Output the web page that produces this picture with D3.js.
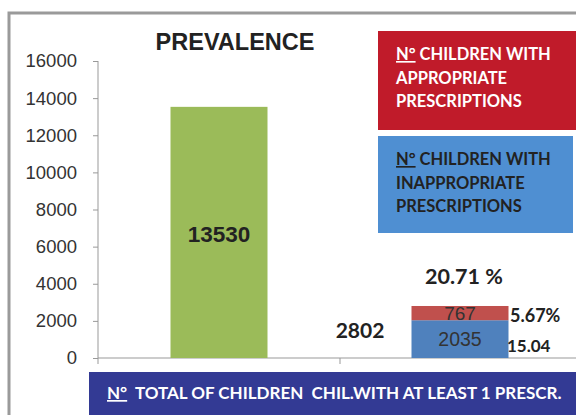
<!DOCTYPE html>
<html>
<head>
<meta charset="utf-8">
<script src="https://cdn.jsdelivr.net/npm/d3@7"></script>
<style>
  body { margin: 0; background: #fff; }
  svg { display: block; }
  .tick text { font-family: "Liberation Sans", Arial, sans-serif; font-size: 18.5px; fill: #333; }
  .tick line, .domain { stroke: #999; }
  .calibri { font-family: Lato, "Open Sans", sans-serif; font-weight: bold; }
</style>
</head>
<body>
<svg id="chart" width="576" height="415"></svg>
<script>
var categories = ["N° TOTAL OF CHILDREN", "CHIL.WITH AT LEAST 1 PRESCR."];
var totalChildren = 13530;
var appropriate = [767];     // red segment
var inappropriate = [2035];  // blue segment
var withPrescription = 2802;
var pctTotal = "20.71 %";
var pctAppropriate = "5.67%";
var pctInappropriate = "15.04";
var yTicks = [0, 2000, 4000, 6000, 8000, 10000, 12000, 14000, 16000];

var svg = d3.select("#chart");

// outer frame
svg.append("rect")
   .attr("x", 9).attr("y", 13)
   .attr("width", 580).attr("height", 420)
   .attr("fill", "none").attr("stroke", "#9a9a9a").attr("stroke-width", 3);

var plot = {left: 98, right: 576, top: 61, bottom: 358};

var x = d3.scaleBand().domain(categories)
          .range([98, 582]).paddingInner(0).paddingOuter(0);
var y = d3.scaleLinear().domain([0, 16000]).range([plot.bottom, plot.top]);

var barW = 97;

// y axis
svg.append("g")
   .attr("transform", "translate(" + plot.left + ",0)")
   .call(d3.axisLeft(y).tickValues(yTicks).tickSize(5).tickPadding(16).tickFormat(d3.format("d")))
   .call(function(g) { g.select(".domain").attr("d", "M0," + plot.top + "V" + (plot.bottom + 6)); });

// x axis
svg.append("line")
   .attr("x1", plot.left).attr("x2", 576)
   .attr("y1", plot.bottom).attr("y2", plot.bottom)
   .attr("stroke", "#999");
svg.append("line")
   .attr("x1", x(categories[1])).attr("x2", x(categories[1]))
   .attr("y1", plot.bottom).attr("y2", plot.bottom + 6)
   .attr("stroke", "#999");

// green bar
var cx0 = x(categories[0]) + x.bandwidth() / 2;
svg.append("rect")
   .attr("x", cx0 - barW / 2).attr("width", barW)
   .attr("y", y(totalChildren)).attr("height", y(0) - y(totalChildren))
   .attr("fill", "#9bbb59");
svg.append("text")
   .attr("x", cx0).attr("y", 242)
   .attr("text-anchor", "middle")
   .style("font-family", "'Liberation Sans', Arial, sans-serif")
   .style("font-weight", "bold").style("font-size", "22.5px").attr("fill", "#222")
   .text(totalChildren);

// stacked bar
var cx1 = x(categories[1]) + x.bandwidth() / 2 - 1;
svg.append("rect")
   .attr("x", cx1 - barW / 2).attr("width", barW)
   .attr("y", y(inappropriate[0])).attr("height", y(0) - y(inappropriate[0]))
   .attr("fill", "#4f81bd");
svg.append("rect")
   .attr("x", cx1 - barW / 2).attr("width", barW)
   .attr("y", y(inappropriate[0] + appropriate[0])).attr("height", y(0) - y(appropriate[0]))
   .attr("fill", "#c0504d");

svg.append("text")
   .attr("x", cx1).attr("y", 320)
   .attr("text-anchor", "middle")
   .style("font-family", "'Liberation Sans', Arial, sans-serif").style("font-size", "19px").attr("fill", "#333")
   .text(appropriate[0]);
svg.append("text")
   .attr("x", cx1).attr("y", 346)
   .attr("text-anchor", "middle")
   .style("font-family", "'Liberation Sans', Arial, sans-serif").style("font-size", "19.5px").attr("fill", "#333")
   .text(inappropriate[0]);

// data labels
svg.append("text").attr("class", "calibri")
   .attr("x", 360).attr("y", 338).attr("text-anchor", "middle")
   .style("font-size", "21px").attr("fill", "#222")
   .text(withPrescription);
svg.append("text").attr("class", "calibri")
   .attr("x", 464).attr("y", 284).attr("text-anchor", "middle")
   .style("font-size", "21.5px").attr("fill", "#222")
   .text(pctTotal);
svg.append("text").attr("class", "calibri")
   .attr("x", 510).attr("y", 322)
   .style("font-size", "18px").attr("fill", "#222")
   .text(pctAppropriate);
svg.append("text").attr("class", "calibri")
   .attr("x", 507).attr("y", 352)
   .style("font-size", "17px").attr("fill", "#222")
   .text(pctInappropriate);

// title
svg.append("text")
   .attr("x", 235).attr("y", 50).attr("text-anchor", "middle")
   .style("font-family", "'Liberation Sans', Arial, sans-serif")
   .style("font-weight", "bold").style("font-size", "23.5px").attr("fill", "#222")
   .text("PREVALENCE");

// legend boxes
function legendBox(yTop, w, h, fill, textFill, lines) {
  svg.append("rect")
     .attr("x", 378).attr("y", yTop).attr("width", w).attr("height", h)
     .attr("fill", fill);
  lines.forEach(function(line, i) {
    var t = svg.append("text").attr("class", "calibri")
       .attr("x", 396).attr("y", yTop + 29 + i * 23.5)
       .style("font-size", "16.5px").attr("fill", textFill);
    if (i === 0) {
      t.append("tspan").style("text-decoration", "underline")
       .style("text-decoration-color", "#e07070").text("N°");
      t.append("tspan").text(line.slice(2));
    } else {
      t.text(line);
    }
  });
}
legendBox(31, 198, 99, "#c01b2a", "#fff", ["N° CHILDREN WITH", "APPROPRIATE", "PRESCRIPTIONS"]);
legendBox(136, 195, 97, "#4f8fd2", "#222", ["N° CHILDREN WITH", "INAPPROPRIATE", "PRESCRIPTIONS"]);

// category banner
svg.append("rect")
   .attr("x", 89).attr("y", 372).attr("width", 487).attr("height", 43)
   .attr("fill", "#333a94");
var banner = svg.append("text").attr("class", "calibri")
   .attr("x", 107).attr("y", 399)
   .style("font-size", "17px").attr("fill", "#fff")
   .attr("xml:space", "preserve");
banner.append("tspan").style("text-decoration", "underline")
   .style("text-decoration-color", "#e05050").text("N°");
banner.append("tspan").text("  " + categories[0].slice(3) + "  " + categories[1]);
</script>
</body>
</html>
